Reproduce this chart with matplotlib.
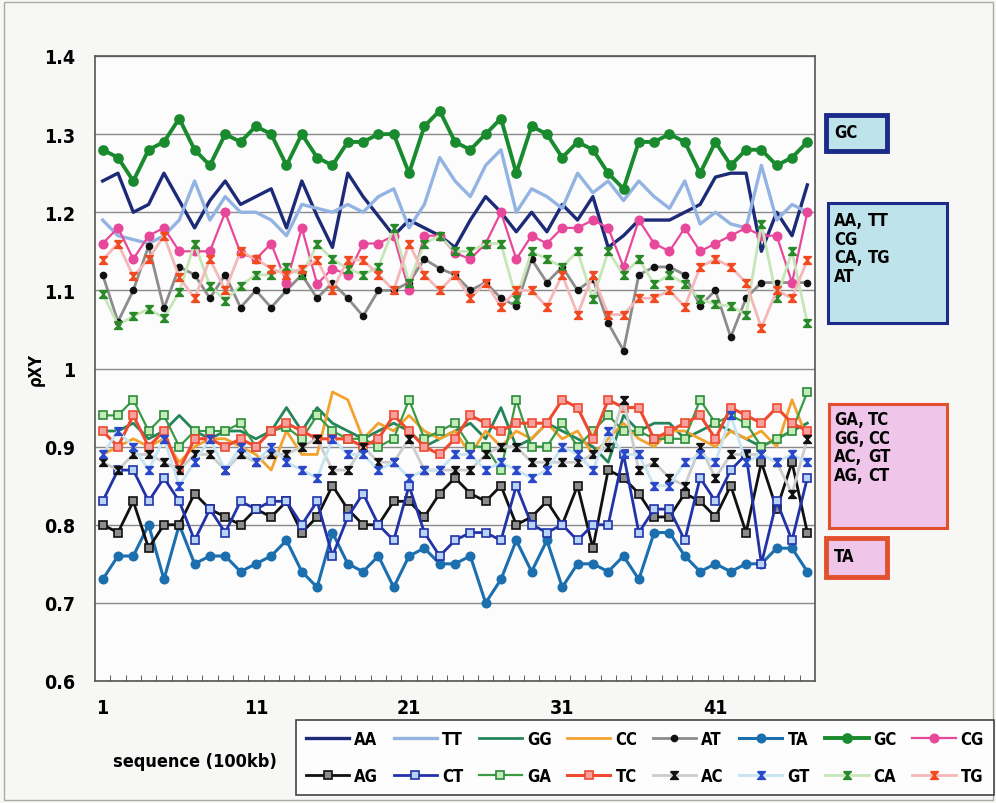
import matplotlib
matplotlib.use('Agg')
import matplotlib.pyplot as plt
from matplotlib import font_manager
from matplotlib.patches import Rectangle
import numpy as np

names = {f.name for f in font_manager.fontManager.ttflist}
narrow = 'Liberation Sans Narrow' if 'Liberation Sans Narrow' in names else 'DejaVu Sans'
plt.rcParams['font.family'] = [narrow, 'DejaVu Sans']
plt.rcParams['font.weight'] = 'bold'
plt.rcParams['font.stretch'] = 'condensed'

# 47 points, 100kb each
seq = np.arange(1, 48)
xticks = [1, 11, 21, 31, 41]
yticks = [0.6, 0.7, 0.8, 0.9, 1.0, 1.1, 1.2, 1.3, 1.4]
ytick_labels = ['0.6', '0.7', '0.8', '0.9', '1', '1.1', '1.2', '1.3', '1.4']

AA = [1.24, 1.25, 1.20, 1.21, 1.25, 1.215, 1.18, 1.215, 1.24, 1.21,
      1.22, 1.23, 1.18, 1.24, 1.195, 1.155, 1.25, 1.22, 1.195, 1.17,
      1.19, 1.18, 1.17, 1.155, 1.19, 1.22, 1.20, 1.175, 1.20, 1.175,
      1.21, 1.19, 1.22, 1.155, 1.17, 1.19, 1.19, 1.19, 1.20, 1.21,
      1.245, 1.25, 1.25, 1.15, 1.20, 1.17, 1.235]
TT = [1.19, 1.17, 1.165, 1.16, 1.17, 1.19, 1.24, 1.19, 1.22, 1.20,
      1.20, 1.19, 1.17, 1.21, 1.205, 1.20, 1.21, 1.20, 1.22, 1.23,
      1.18, 1.21, 1.27, 1.24, 1.22, 1.26, 1.28, 1.20, 1.23, 1.22,
      1.205, 1.25, 1.225, 1.24, 1.215, 1.24, 1.22, 1.205, 1.24, 1.185,
      1.20, 1.185, 1.18, 1.26, 1.19, 1.21, 1.20]
GG = [0.92, 0.92, 0.93, 0.91, 0.92, 0.94, 0.92, 0.91, 0.92, 0.92,
      0.91, 0.92, 0.95, 0.92, 0.95, 0.93, 0.92, 0.91, 0.92, 0.93,
      0.92, 0.90, 0.91, 0.92, 0.93, 0.91, 0.95, 0.90, 0.91, 0.93,
      0.92, 0.91, 0.90, 0.88, 0.94, 0.92, 0.93, 0.93, 0.91, 0.92,
      0.93, 0.92, 0.91, 0.90, 0.91, 0.92, 0.93]
CC = [0.89, 0.90, 0.91, 0.90, 0.91, 0.88, 0.90, 0.91, 0.91, 0.90,
      0.89, 0.87, 0.92, 0.89, 0.89, 0.97, 0.96, 0.91, 0.93, 0.92,
      0.94, 0.92, 0.91, 0.92, 0.89, 0.92, 0.90, 0.92, 0.91, 0.93,
      0.91, 0.92, 0.89, 0.91, 0.93, 0.91, 0.90, 0.92, 0.92, 0.91,
      0.90, 0.92, 0.91, 0.92, 0.90, 0.96, 0.91]
AT = [1.12, 1.06, 1.10, 1.157, 1.077, 1.13, 1.12, 1.09, 1.12, 1.078,
      1.10, 1.078, 1.10, 1.12, 1.09, 1.11, 1.09, 1.067, 1.10, 1.10,
      1.11, 1.14, 1.128, 1.12, 1.10, 1.11, 1.09, 1.08, 1.14, 1.11,
      1.13, 1.10, 1.115, 1.058, 1.023, 1.12, 1.13, 1.13, 1.12, 1.08,
      1.10, 1.04, 1.09, 1.11, 1.11, 1.11, 1.11]
TA = [0.73, 0.76, 0.76, 0.80, 0.73, 0.80, 0.75, 0.76, 0.76, 0.74,
      0.75, 0.76, 0.78, 0.74, 0.72, 0.79, 0.75, 0.74, 0.76, 0.72,
      0.76, 0.77, 0.75, 0.75, 0.76, 0.70, 0.73, 0.78, 0.74, 0.78,
      0.72, 0.75, 0.75, 0.74, 0.76, 0.73, 0.79, 0.79, 0.76, 0.74,
      0.75, 0.74, 0.75, 0.75, 0.77, 0.77, 0.74]
GC = [1.28, 1.27, 1.24, 1.28, 1.29, 1.32, 1.28, 1.26, 1.30, 1.29,
      1.31, 1.30, 1.26, 1.30, 1.27, 1.26, 1.29, 1.29, 1.30, 1.30,
      1.25, 1.31, 1.33, 1.29, 1.28, 1.30, 1.32, 1.25, 1.31, 1.30,
      1.27, 1.29, 1.28, 1.25, 1.23, 1.29, 1.29, 1.30, 1.29, 1.25,
      1.29, 1.26, 1.28, 1.28, 1.26, 1.27, 1.29]
CG = [1.16, 1.18, 1.14, 1.17, 1.18, 1.15, 1.15, 1.15, 1.20, 1.148,
      1.14, 1.16, 1.11, 1.18, 1.108, 1.128, 1.12, 1.16, 1.16, 1.17,
      1.10, 1.17, 1.17, 1.148, 1.14, 1.16, 1.20, 1.14, 1.17, 1.16,
      1.18, 1.18, 1.19, 1.18, 1.13, 1.19, 1.16, 1.15, 1.18, 1.15,
      1.16, 1.17, 1.18, 1.17, 1.17, 1.11, 1.20]
AG = [0.80, 0.79, 0.83, 0.77, 0.80, 0.80, 0.84, 0.82, 0.81, 0.80,
      0.82, 0.81, 0.83, 0.79, 0.81, 0.85, 0.82, 0.80, 0.80, 0.83,
      0.83, 0.81, 0.84, 0.86, 0.84, 0.83, 0.85, 0.80, 0.81, 0.83,
      0.80, 0.85, 0.77, 0.87, 0.86, 0.84, 0.81, 0.81, 0.84, 0.83,
      0.81, 0.85, 0.79, 0.88, 0.82, 0.88, 0.79]
CT = [0.83, 0.87, 0.87, 0.83, 0.86, 0.83, 0.78, 0.82, 0.79, 0.83,
      0.82, 0.83, 0.83, 0.80, 0.83, 0.76, 0.81, 0.84, 0.80, 0.78,
      0.85, 0.79, 0.76, 0.78, 0.79, 0.79, 0.78, 0.85, 0.80, 0.79,
      0.80, 0.78, 0.80, 0.80, 0.89, 0.79, 0.82, 0.82, 0.78, 0.86,
      0.83, 0.87, 0.89, 0.75, 0.83, 0.78, 0.86]
GA = [0.94, 0.94, 0.96, 0.92, 0.94, 0.90, 0.92, 0.92, 0.92, 0.93,
      0.90, 0.92, 0.925, 0.91, 0.94, 0.92, 0.91, 0.91, 0.90, 0.91,
      0.96, 0.91, 0.92, 0.93, 0.90, 0.90, 0.87, 0.96, 0.90, 0.90,
      0.93, 0.90, 0.92, 0.94, 0.92, 0.92, 0.91, 0.91, 0.91, 0.96,
      0.93, 0.94, 0.93, 0.90, 0.91, 0.92, 0.97]
TC = [0.92, 0.90, 0.94, 0.90, 0.92, 0.87, 0.91, 0.91, 0.90, 0.91,
      0.90, 0.92, 0.93, 0.92, 0.91, 0.91, 0.91, 0.90, 0.91, 0.94,
      0.92, 0.90, 0.89, 0.91, 0.94, 0.93, 0.92, 0.93, 0.93, 0.93,
      0.96, 0.95, 0.91, 0.96, 0.95, 0.95, 0.91, 0.92, 0.93, 0.94,
      0.91, 0.95, 0.94, 0.93, 0.95, 0.93, 0.92]
AC = [0.88, 0.87, 0.89, 0.89, 0.88, 0.87, 0.89, 0.89, 0.87, 0.89,
      0.88, 0.89, 0.89, 0.90, 0.91, 0.87, 0.87, 0.90, 0.88, 0.88,
      0.91, 0.87, 0.87, 0.87, 0.87, 0.89, 0.90, 0.90, 0.88, 0.88,
      0.88, 0.88, 0.89, 0.90, 0.96, 0.87, 0.88, 0.86, 0.85, 0.90,
      0.86, 0.89, 0.89, 0.89, 0.88, 0.84, 0.91]
GT = [0.89, 0.92, 0.90, 0.87, 0.91, 0.85, 0.88, 0.91, 0.87, 0.90,
      0.88, 0.90, 0.88, 0.87, 0.86, 0.91, 0.89, 0.89, 0.87, 0.88,
      0.86, 0.87, 0.87, 0.89, 0.89, 0.87, 0.88, 0.87, 0.86, 0.87,
      0.90, 0.89, 0.87, 0.92, 0.89, 0.89, 0.85, 0.85, 0.88, 0.89,
      0.88, 0.94, 0.88, 0.89, 0.88, 0.89, 0.88]
CA = [1.096, 1.056, 1.067, 1.076, 1.065, 1.098, 1.16, 1.106, 1.087, 1.106,
      1.12, 1.12, 1.13, 1.12, 1.159, 1.14, 1.128, 1.12, 1.13, 1.18,
      1.11, 1.16, 1.17, 1.15, 1.15, 1.16, 1.16, 1.089, 1.15, 1.14,
      1.13, 1.15, 1.089, 1.15, 1.12, 1.14, 1.108, 1.12, 1.108, 1.089,
      1.082, 1.08, 1.069, 1.185, 1.09, 1.15, 1.058]
TG = [1.139, 1.16, 1.118, 1.14, 1.17, 1.117, 1.09, 1.14, 1.10, 1.15,
      1.14, 1.128, 1.12, 1.128, 1.139, 1.10, 1.139, 1.139, 1.12, 1.10,
      1.16, 1.12, 1.10, 1.12, 1.09, 1.11, 1.079, 1.10, 1.10, 1.079,
      1.12, 1.069, 1.12, 1.069, 1.069, 1.09, 1.09, 1.10, 1.079, 1.13,
      1.14, 1.13, 1.11, 1.052, 1.10, 1.09, 1.139]

series = [('AA', AA), ('TT', TT), ('GG', GG), ('CC', CC),
          ('AT', AT), ('TA', TA), ('GC', GC), ('CG', CG),
          ('AG', AG), ('CT', CT), ('GA', GA), ('TC', TC),
          ('AC', AC), ('GT', GT), ('CA', CA), ('TG', TG)]

hourglass = [(-1, 1), (1, 1), (-1, -1), (1, -1), (-1, 1)]

# name: (line colour, lw, marker, face, edge, size)
styles = {
    'AA': ('#1c2a78', 2.4, None, None, None, 0),
    'TT': ('#93b4e2', 2.4, None, None, None, 0),
    'GG': ('#24855a', 2.0, None, None, None, 0),
    'CC': ('#f2a22e', 2.0, None, None, None, 0),
    'AT': ('#8c8c8c', 2.0, 'o', '#111111', '#111111', 4.3),
    'TA': ('#1c6fae', 2.2, 'o', '#1c6fae', '#1c6fae', 6),
    'GC': ('#1a8a2e', 2.8, 'o', '#1a8a2e', '#1a8a2e', 6.5),
    'CG': ('#e8489a', 1.6, 'o', '#e8489a', '#e8489a', 6),
    'AG': ('#111111', 2.0, 's', '#8c8c8c', '#111111', 5.8),
    'CT': ('#2233a8', 2.0, 's', '#b8d4f4', '#2233a8', 5.8),
    'GA': ('#3a9a46', 1.6, 's', '#c4ecb8', '#2c8a3a', 5.8),
    'TC': ('#ee4a30', 2.2, 's', '#f7a0a0', '#ee4a30', 5.8),
    'AC': ('#cccccc', 2.0, hourglass, '#111111', '#111111', 5.5),
    'GT': ('#c6e4f2', 2.0, hourglass, '#2a48c8', '#2a48c8', 5.5),
    'CA': ('#c6e6b8', 2.0, hourglass, '#2a8a2a', '#2a8a2a', 5.5),
    'TG': ('#f4b8b8', 2.0, hourglass, '#f04a20', '#f04a20', 5.5),
}

W, H = 996, 804
fig = plt.figure(figsize=(W / 100, H / 100), dpi=100, facecolor='#f7f7f5')

def fx(px):
    return px / W

def fy(py):
    return 1 - py / H

ax = fig.add_axes([fx(95), fy(682), fx(815) - fx(95), fy(57) - fy(682)])
ax.set_facecolor('#fcfcfc')

handles = {}
for name, vals in series:
    c, lw, mk, mfc, mec, ms = styles[name]
    ln, = ax.plot(seq, vals, color=c, lw=lw, marker=mk, mfc=mfc, mec=mec,
                  ms=ms, mew=1.2, label=name)
    handles[name] = ln

ax.set_xlim(0.5, 47.5)
ax.set_ylim(0.6, 1.4)
ax.set_yticks(yticks)
ax.set_yticklabels(ytick_labels, fontsize=14, fontweight='bold')
ax.set_xticks(xticks)
ax.set_xticklabels([str(t) for t in xticks], fontsize=14, fontweight='bold')
ax.set_xticks(np.arange(1.5, 47, 1.0), minor=True)
ax.tick_params(axis='y', length=0, pad=14)
ax.tick_params(axis='x', which='major', length=0, pad=12)
ax.tick_params(axis='x', which='minor', direction='in', length=4, color='#444444')
ax.yaxis.grid(True, color='#8a8a8a', lw=1.0)
ax.set_axisbelow(True)
for s in ax.spines.values():
    s.set_color('#555555')
    s.set_linewidth(1.2)

fig.text(fx(36), fy(370), 'ρXY', rotation=90, ha='center', va='center',
         fontsize=12, fontweight='bold')
fig.text(fx(195), fy(762), 'sequence (100kb)', ha='center', va='center',
         fontsize=13, fontweight='bold')

# legend, two rows of eight
row1 = ['AA', 'TT', 'GG', 'CC', 'AT', 'TA', 'GC', 'CG']
row2 = ['AG', 'CT', 'GA', 'TC', 'AC', 'GT', 'CA', 'TG']
order = [n for pair in zip(row1, row2) for n in pair]
leg = fig.legend([handles[n] for n in order], order, loc='lower left',
                 bbox_to_anchor=(fx(296), fy(796), fx(994) - fx(296), fy(722) - fy(796)),
                 mode='expand', borderaxespad=0, ncol=8, numpoints=1,
                 handlelength=2.6, handletextpad=0.3, columnspacing=0.8,
                 labelspacing=1.15, borderpad=0.6, fancybox=False,
                 edgecolor='#444444', facecolor='#fdfdfd', framealpha=1,
                 prop={'size': 12, 'weight': 'bold', 'stretch': 'condensed'})
leg.get_frame().set_linewidth(1.2)

# group boxes on the right
def box(x0, y0, x1, y1, face, edge, lw):
    fig.add_artist(Rectangle((fx(x0), fy(y1)), fx(x1) - fx(x0), fy(y0) - fy(y1),
                             transform=fig.transFigure, facecolor=face,
                             edgecolor=edge, linewidth=lw))

box(826, 116, 887, 152, '#bfe3ea', '#1c2a8a', 3.5)
box(828, 204, 947, 324, '#bfe3ea', '#1c2a8a', 2.2)
box(829, 405, 947, 529, '#efc6ea', '#e2502e', 2.2)
box(826, 539, 887, 578, '#efc6ea', '#e2502e', 3.5)

tk = dict(fontsize=12, fontweight='bold', va='top', ha='left', linespacing=1.05)
fig.text(fx(834), fy(124), 'GC', **tk)
fig.text(fx(834), fy(212), 'AA,\nCG\nCA,\nAT', **tk)
fig.text(fx(868), fy(212), 'TT\n\nTG', **tk)
fig.text(fx(834), fy(411), 'GA,\nGG,\nAC,\nAG,', **tk)
fig.text(fx(868), fy(411), 'TC\nCC\nGT\nCT', **tk)
fig.text(fx(834), fy(548), 'TA', **tk)

fig.add_artist(Rectangle((fx(4), fy(801)), fx(993) - fx(4), fy(3) - fy(801),
                         transform=fig.transFigure, facecolor='none',
                         edgecolor='#aaaaaa', linewidth=1.0))

fig.savefig('out.png', dpi=100, facecolor=fig.get_facecolor())
